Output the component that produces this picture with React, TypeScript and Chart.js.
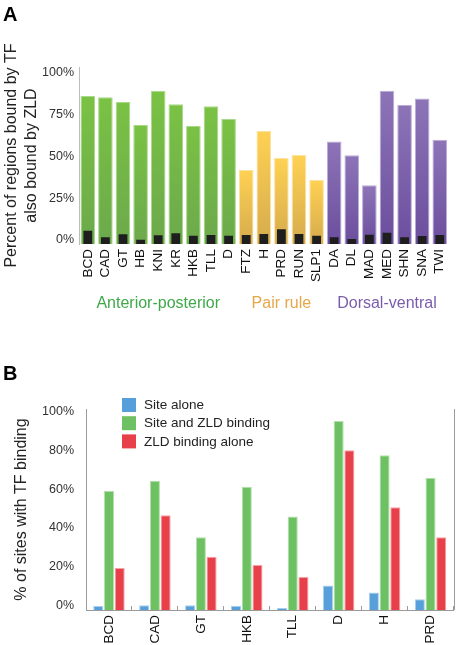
import React, { useEffect, useRef } from "react";
import { Chart, registerables } from "chart.js";

Chart.register(...registerables);

// ---------- Panel A data ----------
const tfA = ["BCD", "CAD", "GT", "HB", "KNI", "KR", "HKB", "TLL", "D", "FTZ", "H", "PRD", "RUN", "SLP1", "DA", "DL", "MAD", "MED", "SHN", "SNA", "TWI"];
const pctAlsoBoundByZld = [88.7, 87.9, 85.1, 71.2, 91.8, 83.7, 70.6, 82.5, 74.8, 44.3, 67.6, 51.7, 53.3, 38.4, 61.4, 53.1, 35.2, 91.8, 83.3, 87.1, 62.4];
const pctBackground = [8.0, 4.0, 5.8, 2.6, 5.2, 6.4, 5.0, 5.4, 5.0, 5.4, 6.0, 8.9, 6.0, 5.0, 4.0, 3.0, 5.6, 6.8, 4.0, 4.8, 5.4];
const groupNames = ["Anterior-posterior", "Pair rule", "Dorsal-ventral"];
const groupSizes = [9, 5, 7];
const yTicksA = [0, 25, 50, 75, 100];
const yTitleA = ["Percent of regions bound by TF", "also bound by ZLD"];

// ---------- Panel B data ----------
const tfB = ["BCD", "CAD", "GT", "HKB", "TLL", "D", "H", "PRD"];
const siteAlone = [2.1, 2.4, 2.4, 2.2, 1.0, 12.6, 9.0, 5.5];
const siteAndZld = [61.4, 66.6, 37.5, 63.5, 48.2, 97.4, 79.7, 68.2];
const zldAlone = [21.7, 48.9, 27.4, 23.2, 17.0, 82.4, 53.0, 37.5];
const seriesNamesB = ["Site alone", "Site and ZLD binding", "ZLD binding alone"];
const yTicksB = [0, 20, 40, 60, 80, 100];
const yTitleB = "% of sites with TF binding";

// ---------- styles ----------
const FONT = "'Liberation Sans', Arial, Helvetica, sans-serif";
const groupStyles = [
  { top: "#7AC244", bottom: "#6CA94C", border: "#A8D889", text: "#3FA94A" },
  { top: "#FFD153", bottom: "#D5AB4D", border: "#FBE2A0", text: "#E6A64A" },
  { top: "#8D74B7", bottom: "#6B4E9E", border: "#BBABD8", text: "#7A5CAD" },
];
const colorsB = ["#569FDA", "#6EC162", "#E8404A"];
const bordersB = ["#A9CFEE", "#B4E1AB", "#F4A3A7"];

const groupOf: number[] = [];
groupSizes.forEach((n, g) => {
  for (let i = 0; i < n; i++) groupOf.push(g);
});

const barFill = (c: any) => {
  const idx = typeof c.dataIndex === "number" ? c.dataIndex : 0;
  const gs = groupStyles[groupOf[idx] ?? 0];
  const chart = c.chart;
  const ys = chart.scales && chart.scales.y;
  if (!ys || c.type !== "data" || typeof c.raw !== "number") return gs.top;
  const yTop = ys.getPixelForValue(c.raw);
  const yBot = ys.getPixelForValue(0);
  if (!isFinite(yTop) || !isFinite(yBot) || Math.abs(yBot - yTop) < 1) return gs.top;
  const grad = chart.ctx.createLinearGradient(0, yTop, 0, yBot);
  grad.addColorStop(0, gs.top);
  grad.addColorStop(1, gs.bottom);
  return grad;
};

const panelAPlugin = {
  id: "panelAExtras",
  afterDraw(chart: any) {
    const { ctx, chartArea, scales } = chart;
    const x = scales.x;
    ctx.save();
    ctx.fillStyle = "#000";
    ctx.font = `bold 20px ${FONT}`;
    ctx.textAlign = "left";
    ctx.textBaseline = "alphabetic";
    ctx.fillText("A", 3, 21);

    ctx.font = `16px ${FONT}`;
    ctx.textAlign = "center";
    ctx.textBaseline = "middle";
    let start = 0;
    groupNames.forEach((name, g) => {
      const end = start + groupSizes[g] - 1;
      const cx = (x.getPixelForValue(start) + x.getPixelForValue(end)) / 2;
      ctx.fillStyle = groupStyles[g].text;
      ctx.fillText(name, cx, chartArea.bottom + 60);
      start = end + 1;
    });
    ctx.restore();
  },
};

const panelBPlugin = {
  id: "panelBExtras",
  afterDraw(chart: any) {
    const { ctx, chartArea } = chart;
    ctx.save();
    // panel letter
    ctx.fillStyle = "#000";
    ctx.font = `bold 20px ${FONT}`;
    ctx.textAlign = "left";
    ctx.textBaseline = "alphabetic";
    ctx.fillText("B", 3, 50);

    // right frame line
    ctx.strokeStyle = "#9A9A9A";
    ctx.lineWidth = 1;
    ctx.beginPath();
    const rx = Math.round(chartArea.right) + 0.5;
    ctx.moveTo(rx, chartArea.top);
    ctx.lineTo(rx, chartArea.bottom);
    ctx.stroke();

    // legend
    const bx = chartArea.left + 36;
    const by = chartArea.top - 11;
    ctx.font = `13.5px ${FONT}`;
    ctx.textBaseline = "middle";
    chart.data.datasets.forEach((ds: any, i: number) => {
      const y = by + i * 18.2;
      ctx.fillStyle = ds.backgroundColor;
      ctx.fillRect(bx, y, 14, 14);
      ctx.fillStyle = "#222";
      ctx.fillText(ds.label, bx + 22, y + 7.5);
    });
    ctx.restore();
  },
};

export default function App() {
  const refA = useRef<HTMLCanvasElement>(null);
  const refB = useRef<HTMLCanvasElement>(null);

  useEffect(() => {
    const chartA = new Chart(refA.current as HTMLCanvasElement, {
      type: "bar",
      data: {
        labels: tfA,
        datasets: [
          {
            label: "Background",
            data: pctBackground,
            backgroundColor: "#1E1E1E",
            borderWidth: 0,
            barPercentage: 0.5,
            categoryPercentage: 1,
            grouped: false,
          } as any,
          {
            label: "Also bound by ZLD",
            data: pctAlsoBoundByZld,
            backgroundColor: barFill,
            borderColor: (c: any) => groupStyles[groupOf[c.dataIndex ?? 0] ?? 0].border,
            borderWidth: 1,
            barPercentage: 0.83,
            categoryPercentage: 1,
            grouped: false,
          } as any,
        ],
      },
      options: {
        responsive: false,
        animation: false,
        layout: { padding: { top: 67, right: 1.5, bottom: 30, left: 0 } },
        plugins: { legend: { display: false }, tooltip: { enabled: false } },
        scales: {
          x: {
            grid: { display: false, drawTicks: false },
            border: { display: false },
            ticks: {
              autoSkip: false,
              minRotation: 90,
              maxRotation: 90,
              padding: 5,
              color: "#111",
              font: { family: FONT, size: 13.5 },
            },
            afterFit: (s: any) => {
              s.height = 56;
            },
          },
          y: {
            min: 0,
            max: 106,
            grid: { display: false, drawTicks: false },
            border: { display: true, color: "#BDBDBD", width: 1 },
            afterBuildTicks: (s: any) => {
              s.ticks = yTicksA.map((v) => ({ value: v }));
            },
            ticks: {
              padding: 5,
              labelOffset: -4,
              color: "#333",
              font: { family: FONT, size: 12.5 },
              callback: (v: any) => `${v}%`,
            },
            title: {
              display: true,
              text: yTitleA,
              color: "#222",
              font: { family: FONT, size: 16, lineHeight: 1.25 },
              padding: { top: 2, bottom: 0 },
            },
            afterFit: (s: any) => {
              s.width = 79;
            },
          },
        },
      },
      plugins: [panelAPlugin],
    } as any);

    const chartB = new Chart(refB.current as HTMLCanvasElement, {
      type: "bar",
      data: {
        labels: tfB,
        datasets: [siteAlone, siteAndZld, zldAlone].map((d, i) => ({
          label: seriesNamesB[i],
          data: d,
          backgroundColor: colorsB[i],
          borderColor: bordersB[i],
          borderWidth: 1,
          categoryPercentage: 0.7,
          barPercentage: 0.94,
        })),
      },
      options: {
        responsive: false,
        animation: false,
        layout: { padding: { top: 79, right: 7.5, bottom: 0, left: 0 } },
        plugins: { legend: { display: false }, tooltip: { enabled: false } },
        scales: {
          x: {
            grid: {
              display: true,
              drawOnChartArea: false,
              drawTicks: true,
              tickLength: -4,
              color: "#9A9A9A",
              offset: true,
            },
            border: { display: true, color: "#9A9A9A", width: 1 },
            ticks: {
              autoSkip: false,
              minRotation: 90,
              maxRotation: 90,
              padding: 9,
              color: "#111",
              font: { family: FONT, size: 13.5 },
            },
            afterFit: (s: any) => {
              s.height = 35;
            },
          },
          y: {
            min: 0,
            max: 103.6,
            grid: { display: false, drawTicks: false },
            border: { display: true, color: "#9A9A9A", width: 1 },
            afterBuildTicks: (s: any) => {
              s.ticks = yTicksB.map((v) => ({ value: v }));
            },
            ticks: {
              padding: 12,
              labelOffset: -4.4,
              color: "#333",
              font: { family: FONT, size: 12.5 },
              callback: (v: any) => `${v}%`,
            },
            title: {
              display: true,
              text: yTitleB,
              color: "#222",
              font: { family: FONT, size: 16, lineHeight: 1.2 },
              padding: { top: 12, bottom: 0 },
            },
            afterFit: (s: any) => {
              s.width = 86;
            },
          },
        },
      },
      plugins: [panelBPlugin],
    } as any);

    return () => {
      chartA.destroy();
      chartB.destroy();
    };
  }, []);

  return (
    <div style={{ position: "absolute", left: 0, top: 0, width: 461, height: 645, background: "#fff" }}>
      <canvas
        ref={refA}
        width={461}
        height={330}
        style={{ position: "absolute", left: 0, top: 0, width: 461, height: 330 }}
      />
      <canvas
        ref={refB}
        width={461}
        height={315}
        style={{ position: "absolute", left: 0, top: 330, width: 461, height: 315 }}
      />
    </div>
  );
}
